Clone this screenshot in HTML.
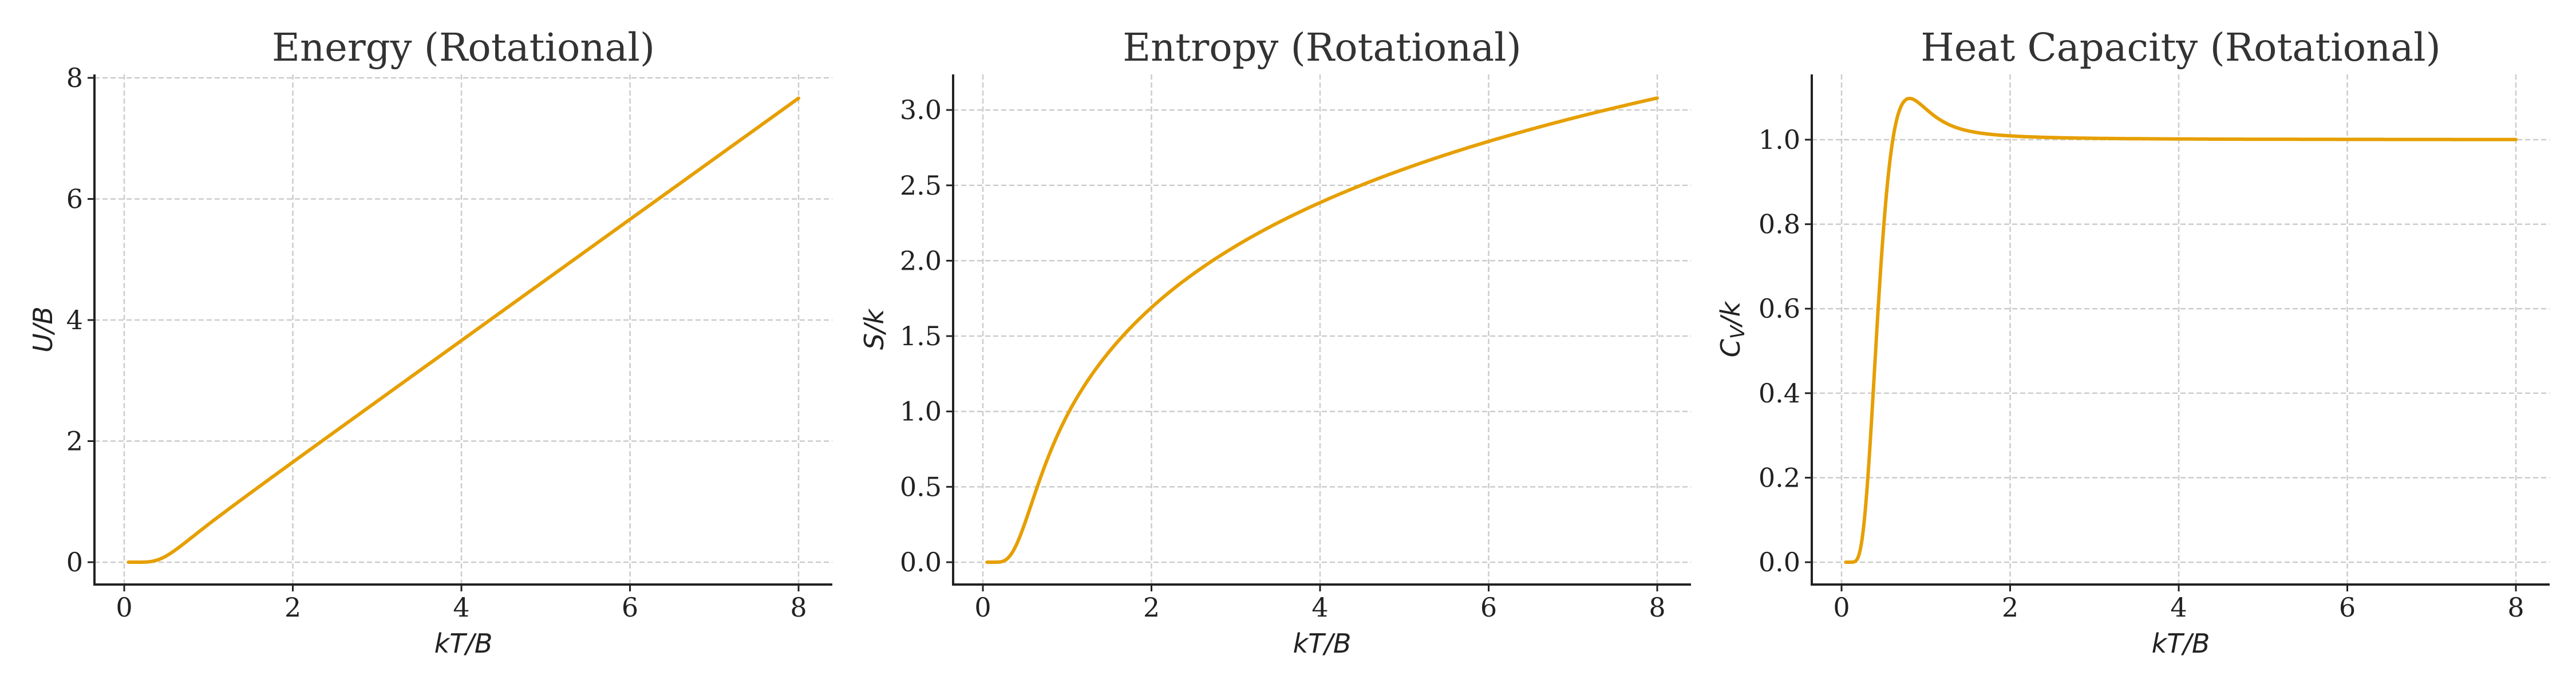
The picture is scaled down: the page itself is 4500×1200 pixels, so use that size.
<!DOCTYPE html>
<html><head><meta charset="utf-8"><style>
html,body{margin:0;padding:0;background:#fff;}
svg{display:block;}
.tk{font-family:"DejaVu Serif","Liberation Serif",serif;font-size:46px;fill:#222;}
.tt{font-family:"DejaVu Serif","Liberation Serif",serif;font-size:67px;fill:#333;}
.al{font-family:"DejaVu Sans","Liberation Sans",sans-serif;font-style:italic;font-size:46px;fill:#222;}
</style></head><body>
<svg id="s" width="4500" height="1200" xmlns="http://www.w3.org/2000/svg"></svg>
<script>
const svg=document.getElementById('s');
let h='';
function comp(t){let Z=0,E1=0,E2=0;for(let J=0;J<80;J++){const E=J*(J+1),w=(2*J+1)*Math.exp(-E/t);Z+=w;E1+=w*E;E2+=w*E*E;}
 const U=E1/Z;return {U:U,S:Math.log(Z)+U/t,C:(E2/Z-U*U)/(t*t)};}
const panels=[
 {off:0,title:'Energy (Rotational)',ticks:[[0,'0'],[2,'2'],[4,'4'],[6,'6'],[8,'8']],scale:105.75,key:'U',lab:'U/B',lx:75},
 {off:1500,title:'Entropy (Rotational)',ticks:[[0,'0.0'],[0.5,'0.5'],[1,'1.0'],[1.5,'1.5'],[2,'2.0'],[2.5,'2.5'],[3,'3.0']],scale:263.3,key:'S',lab:'S/k',lx:27},
 {off:3000,title:'Heat Capacity (Rotational)',ticks:[[0,'0.0'],[0.2,'0.2'],[0.4,'0.4'],[0.6,'0.6'],[0.8,'0.8'],[1,'1.0']],scale:738,key:'C',lab:'C',lx:23}
];
const L=165,R=1454,T=130,B=1021,X0=217,XS=(1395-217)/8,Y0=982;
panels.forEach(p=>{
 const o=p.off;
 for(let i=0;i<=8;i+=2){const x=o+X0+i*XS;h+=`<line x1="${x}" y1="${T}" x2="${x}" y2="${B}" stroke="#ccc" stroke-width="2.5" stroke-dasharray="9,5"/>`;}
 p.ticks.forEach(tk=>{const y=Y0-tk[0]*p.scale;h+=`<line x1="${o+L}" y1="${y}" x2="${o+R}" y2="${y}" stroke="#ccc" stroke-width="2.5" stroke-dasharray="9,5"/>`;});
 let d='';for(let i=0;i<=900;i++){const t=0.05+7.95*i/900;const v=comp(t)[p.key];d+=(i?'L':'M')+(o+X0+t*XS).toFixed(1)+','+(Y0-v*p.scale).toFixed(1);}
 h+=`<path d="${d}" fill="none" stroke="#E69F00" stroke-width="6" stroke-linejoin="round" stroke-linecap="round"/>`;
 h+=`<line x1="${o+L}" y1="${T}" x2="${o+L}" y2="${B+2}" stroke="#222" stroke-width="4"/>`;
 h+=`<line x1="${o+L-2}" y1="${B}" x2="${o+R}" y2="${B}" stroke="#222" stroke-width="4"/>`;
 for(let i=0;i<=8;i+=2){const x=o+X0+i*XS;h+=`<line x1="${x}" y1="${B}" x2="${x}" y2="${B+12}" stroke="#222" stroke-width="3"/><text class="tk" x="${x}" y="1077" text-anchor="middle">${i}</text>`;}
 p.ticks.forEach(tk=>{const y=Y0-tk[0]*p.scale;h+=`<line x1="${o+L-12}" y1="${y}" x2="${o+L}" y2="${y}" stroke="#222" stroke-width="3"/><text class="tk" x="${o+L-20}" y="${y+16}" text-anchor="end">${tk[1]}</text>`;});
 h+=`<text class="tt" x="${o+(L+R)/2}" y="106" text-anchor="middle">${p.title}</text>`;
 h+=`<text class="al" x="${o+(L+R)/2}" y="1140" text-anchor="middle">kT/B</text>`;
 const lab=p.key==='C'?'C<tspan font-size="34" dy="8">V</tspan><tspan dy="-8">/k</tspan>':p.lab;
 h+=`<text class="al" transform="translate(${o+p.lx},${(T+B)/2}) rotate(-90)" x="0" y="16" text-anchor="middle">${lab}</text>`;
});
svg.innerHTML=h;
</script>
</body></html>
